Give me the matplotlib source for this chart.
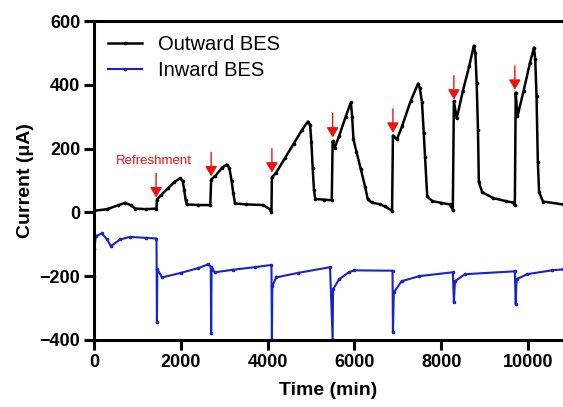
import numpy as np
import matplotlib.pyplot as plt

plt.rcParams['font.family'] = ['Liberation Sans', 'DejaVu Sans']

# outward BES (black)
out_t = [0, 300, 550, 720, 850, 950, 1200, 1440,
         1450, 1550, 1700, 1850, 1980, 2040, 2080, 2110, 2140, 2400, 2680,
         2700, 2800, 2950, 3060, 3120, 3170, 3210, 3250, 3500, 3900, 4050, 4090,
         4100, 4200, 4400, 4600, 4800, 4930, 4980, 5010, 5040, 5070, 5100, 5300, 5480,
         5500, 5550, 5650, 5800, 5920, 5950, 5980, 6050, 6150, 6250, 6310, 6400, 6600, 6700, 6870,
         6890, 6980, 7100, 7300, 7470, 7510, 7560, 7600, 7630, 7680, 7800, 8000, 8200, 8270,
         8295, 8360, 8500, 8650, 8755, 8790, 8820, 8850, 8870, 8950, 9200, 9500, 9650, 9700,
         9720, 9760, 9900, 10050, 10140, 10170, 10200, 10230, 10260, 10350, 10800]
out_i = [5, 10, 22, 30, 22, 12, 10, 12,
         40, 55, 75, 95, 107, 100, 70, 40, 25, 23, 23,
         103, 115, 140, 150, 140, 100, 60, 28, 25, 23, 10, 0,
         110, 125, 170, 215, 260, 285, 275, 220, 140, 70, 42, 40, 38,
         223, 203, 240, 300, 345, 300, 229, 190, 135, 80, 41, 31, 25, 19, 5,
         241, 229, 270, 350, 404, 390, 345, 250, 175, 50, 35, 30, 25, 9,
         348, 295, 380, 460, 523, 500, 407, 260, 94, 63, 45, 35, 31, 22,
         376, 301, 380, 470, 517, 480, 364, 157, 63, 34, 25]

# inward BES (blue)
in_t = [0, 5, 10, 40, 180, 300, 390, 600, 830, 1200, 1440,
        1450, 1460, 1570, 2000, 2400, 2630, 2690,
        2700, 2710, 2790, 3200, 3700, 4090,
        4100, 4110, 4200, 4700, 5440,
        5500, 5510, 5650, 5870, 6000, 6880,
        6890, 6910, 7090, 7500, 8270,
        8295, 8320, 8550, 9700,
        9720, 9740, 9980, 10550, 10800]
in_i = [-400, -200, -116, -75, -66, -85, -106, -85, -77, -80, -82,
        -345, -179, -204, -190, -175, -163, -170,
        -379, -179, -188, -180, -172, -165,
        -400, -232, -204, -190, -172,
        -400, -241, -210, -188, -182, -183,
        -376, -251, -216, -200, -188,
        -282, -216, -194, -185,
        -288, -210, -194, -182, -179]

# refreshment arrows: time and tip height
ref_t = [1430, 2700, 4100, 5500, 6890, 8295, 9700]
ref_tip = [47, 113, 125, 235, 250, 354, 385]

fig = plt.figure(figsize=(5.63, 4.07), dpi=100)
ax = fig.add_axes([0.167, 0.165, 0.833, 0.783])

ax.plot(out_t, out_i, '-', color='black', lw=1.8, marker='o', ms=1.6, label='Outward BES')
ax.plot(in_t, in_i, '-', color='#1a22c8', lw=1.5, marker='o', ms=1.6, label='Inward BES')

for t, y in zip(ref_t, ref_tip):
    ax.annotate('', xy=(t, y), xytext=(t, y + 75),
                arrowprops=dict(arrowstyle='-|>,head_width=0.36,head_length=0.6',
                                color='#ee1111', lw=1, mutation_scale=10,
                                shrinkA=0, shrinkB=0))
ax.text(1390, 160, 'Refreshment', color='#ee1111', fontsize=9.5, ha='center', va='center')

ax.set_xlim(0, 10810)
ax.set_ylim(-400, 600)
ax.set_xticks(range(0, 10001, 2000))
ax.set_yticks(range(-400, 601, 200))
ax.spines['right'].set_visible(False)
for s in ['left', 'top', 'bottom']:
    ax.spines[s].set_linewidth(2.2)
ax.tick_params(width=2.2, length=7, labelsize=13, pad=3)
for lab in ax.get_xticklabels() + ax.get_yticklabels():
    lab.set_fontweight('bold')
ax.set_xlabel('Time (min)', fontsize=14, fontweight='bold', labelpad=8)
ax.set_ylabel('Current (μA)', fontsize=14, fontweight='bold', labelpad=4)

ax.legend(loc='upper left', frameon=False, fontsize=14.5, handlelength=1.7,
          handletextpad=0.8, borderaxespad=0.3, labelspacing=0.35, numpoints=1)

fig.savefig('out.png', dpi=100)
